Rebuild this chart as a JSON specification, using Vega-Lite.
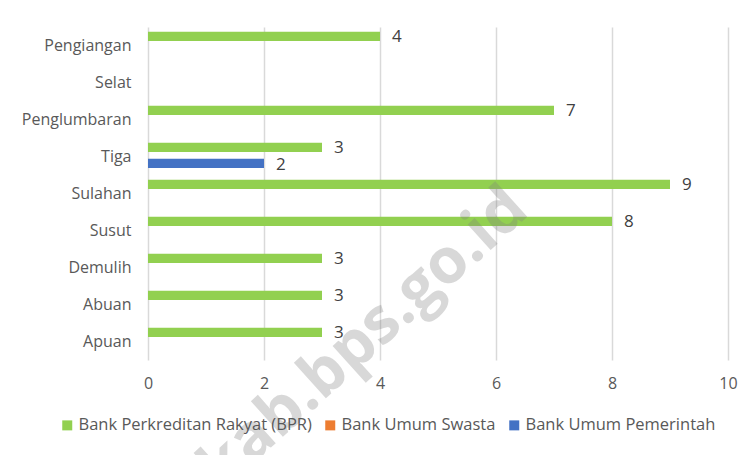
{
  "$schema": "https://vega.github.io/schema/vega-lite/v6.json",
  "width": 580,
  "height": 333,
  "autosize": {"type": "none"},
  "padding": {"left": 148, "top": 27, "right": 27, "bottom": 95},
  "background": "white",
  "config": {
    "font": "Open Sans",
    "view": {"stroke": null},
    "axis": {"labelFont": "Open Sans", "labelColor": "#595959"}
  },
  "datasets": {
    "bank": [
      {"kecamatan": "Pengiangan", "jenis": "Bank Perkreditan Rakyat (BPR)", "jumlah": 4},
      {"kecamatan": "Penglumbaran", "jenis": "Bank Perkreditan Rakyat (BPR)", "jumlah": 7},
      {"kecamatan": "Tiga", "jenis": "Bank Perkreditan Rakyat (BPR)", "jumlah": 3},
      {"kecamatan": "Tiga", "jenis": "Bank Umum Pemerintah", "jumlah": 2},
      {"kecamatan": "Sulahan", "jenis": "Bank Perkreditan Rakyat (BPR)", "jumlah": 9},
      {"kecamatan": "Susut", "jenis": "Bank Perkreditan Rakyat (BPR)", "jumlah": 8},
      {"kecamatan": "Demulih", "jenis": "Bank Perkreditan Rakyat (BPR)", "jumlah": 3},
      {"kecamatan": "Abuan", "jenis": "Bank Perkreditan Rakyat (BPR)", "jumlah": 3},
      {"kecamatan": "Apuan", "jenis": "Bank Perkreditan Rakyat (BPR)", "jumlah": 3}
    ],
    "watermark": [
      {"teks": "kab.bps.go.id", "kecamatan": "Abuan", "jumlah": 3.47}
    ]
  },
  "layer": [
    {
      "data": {"name": "bank"},
      "mark": {"type": "bar", "height": {"band": 1.15}},
      "encoding": {
        "y": {
          "field": "kecamatan",
          "type": "nominal",
          "sort": null,
          "scale": {
            "domain": ["Pengiangan", "Selat", "Penglumbaran", "Tiga", "Sulahan", "Susut", "Demulih", "Abuan", "Apuan"],
            "paddingInner": 0.35,
            "paddingOuter": 0.175
          },
          "axis": {"title": null, "ticks": false, "domain": false, "labelPadding": 17, "labelFontSize": 16}
        },
        "yOffset": {
          "field": "jenis",
          "type": "nominal",
          "scale": {
            "domain": ["Bank Perkreditan Rakyat (BPR)", "Bank Umum Swasta", "Bank Umum Pemerintah"],
            "paddingInner": 0,
            "paddingOuter": 0
          }
        },
        "x": {
          "field": "jumlah",
          "type": "quantitative",
          "scale": {"domain": [0, 10]},
          "axis": {
            "title": null,
            "values": [0, 2, 4, 6, 8, 10],
            "format": "d",
            "ticks": false,
            "domain": false,
            "grid": true,
            "gridColor": "#D9D9D9",
            "gridWidth": 1.5,
            "labelPadding": 15,
            "labelFontSize": 16,
            "labelFlush": false
          }
        },
        "color": {
          "field": "jenis",
          "type": "nominal",
          "scale": {
            "domain": ["Bank Perkreditan Rakyat (BPR)", "Bank Umum Swasta", "Bank Umum Pemerintah"],
            "range": ["#92D050", "#ED7D31", "#4472C4"]
          },
          "legend": {
            "title": null,
            "orient": "none",
            "direction": "horizontal",
            "legendX": -89,
            "legendY": 390,
            "symbolType": "square",
            "symbolSize": 100,
            "symbolStrokeWidth": 0,
            "labelFont": "Open Sans",
            "labelFontSize": 16.5,
            "labelColor": "#595959",
            "labelLimit": 400,
            "columnPadding": 10,
            "symbolOffset": 0,
            "labelOffset": 3
          }
        }
      }
    },
    {
      "data": {"name": "bank"},
      "mark": {"type": "text", "align": "left", "baseline": "middle", "dx": 12, "fontSize": 17, "color": "#404040", "font": "Open Sans"},
      "encoding": {
        "y": {"field": "kecamatan", "type": "nominal", "sort": null},
        "yOffset": {"field": "jenis", "type": "nominal"},
        "x": {"field": "jumlah", "type": "quantitative"},
        "text": {"field": "jumlah", "type": "quantitative"}
      }
    },
    {
      "data": {"name": "watermark"},
      "mark": {"type": "text", "align": "center", "baseline": "middle", "angle": -42, "dx": -12, "dy": 35, "fontSize": 63, "fontWeight": "bold", "font": "Open Sans", "color": "#808080", "opacity": 0.3},
      "encoding": {
        "y": {"field": "kecamatan", "type": "nominal", "sort": null},
        "x": {"field": "jumlah", "type": "quantitative"},
        "text": {"field": "teks", "type": "nominal"}
      }
    }
  ]
}
